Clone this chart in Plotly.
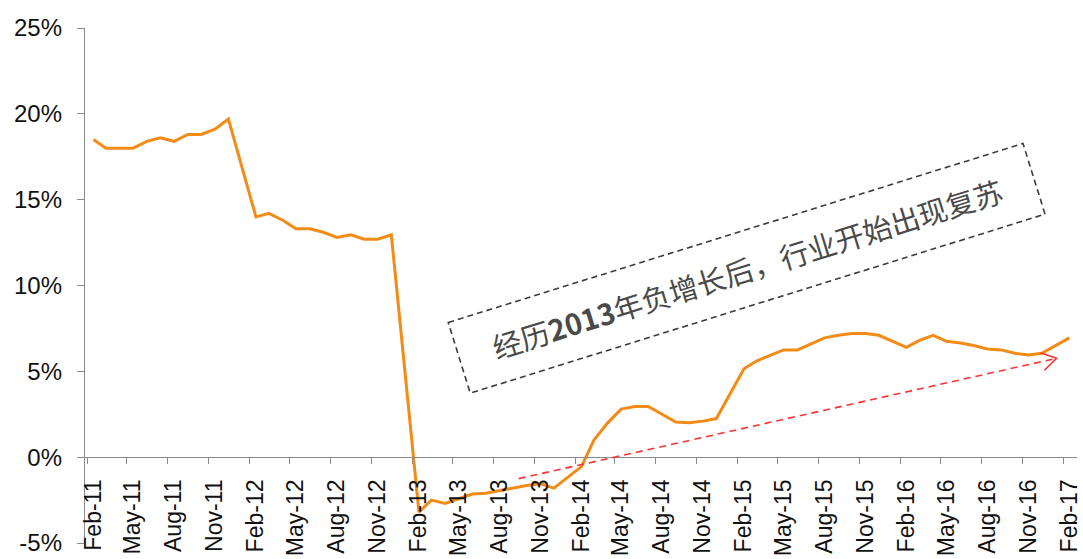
import math
from datetime import date
import plotly.graph_objects as go

# Monthly growth series; January is reported together with February, so no January points
months = [f"{y}-{m:02d}" for y in range(2011, 2017) for m in range(2, 13)] + ["2017-02"]
growth = [
    18.5, 18.0, 18.0, 18.0, 18.4, 18.6, 18.4, 18.8, 18.8, 19.1, 19.7,      # 2011
    14.0, 14.2, 13.8, 13.3, 13.3, 13.1, 12.8, 12.95, 12.7, 12.7, 12.95,    # 2012
    -3.2, -2.5, -2.7, -2.45, -2.15, -2.1, -1.95, -1.8, -1.65, -1.55, -1.8, # 2013
    -0.55, 1.0, 2.0, 2.8, 2.95, 2.95, 2.5, 2.05, 2.0, 2.1, 2.25,           # 2014
    5.15, 5.6, 5.95, 6.25, 6.25, 6.6, 6.95, 7.1, 7.2, 7.2, 7.1,            # 2015
    6.4, 6.8, 7.1, 6.75, 6.65, 6.5, 6.3, 6.25, 6.05, 5.95, 6.05,           # 2016
    6.95,                                                                  # 2017
]
y_ticks = [-5, 0, 5, 10, 15, 20, 25]
y_labels = ["-5%", "0%", "5%", "10%", "15%", "20%", "25%"]

note_text = "经历<b>2013</b>年负增长后，行业开始出现复苏"
note_center = ("2015-02-21", 11.0)
trend_start = ("2013-09-27", -1.25)
trend_end = ("2017-01-17", 5.76)

# page geometry
WIDTH, HEIGHT = 1083, 559
M_L, M_R, M_T, M_B = 85, 6, 28, 16
X_RANGE = ("2011-01-27", "2017-03-04")
Y_RANGE = (-5, 25)
plot_w = WIDTH - M_L - M_R
plot_h = HEIGHT - M_T - M_B

def to_date(s):
    return date.fromisoformat(s)

span_days = (to_date(X_RANGE[1]) - to_date(X_RANGE[0])).days
px_per_day = plot_w / span_days
px_per_pct = plot_h / (Y_RANGE[1] - Y_RANGE[0])

x_dates = [m + "-15" for m in months]

fig = go.Figure()
fig.add_trace(go.Scatter(
    x=x_dates, y=growth, mode="lines",
    line=dict(color="#F38B17", width=3),
    hoverinfo="skip", showlegend=False,
))

# dashed trend arrow
fig.add_shape(type="line", xref="x", yref="y",
              x0=trend_start[0], y0=trend_start[1], x1=trend_end[0], y1=trend_end[1],
              line=dict(color="#FF3030", width=1.6, dash="7px,5px"))
dx = (to_date(trend_end[0]) - to_date(trend_start[0])).days * px_per_day
dy = (trend_end[1] - trend_start[1]) * px_per_pct
ang = math.atan2(dy, dx)
arm, spread = 17, math.radians(32)
p1 = (arm * math.cos(ang + math.pi - spread), arm * math.sin(ang + math.pi - spread))
p2 = (arm * math.cos(ang + math.pi + spread), arm * math.sin(ang + math.pi + spread))
fig.add_shape(type="path", xref="x", yref="y",
              xsizemode="pixel", ysizemode="pixel",
              xanchor=trend_end[0], yanchor=trend_end[1],
              path=f"M {p1[0]:.2f},{p1[1]:.2f} L 0,0 L {p2[0]:.2f},{p2[1]:.2f}",
              line=dict(color="#FF3030", width=1.6))

# rotated dashed callout box
box_w, box_h, box_angle = 602, 74, 17.3
t = math.radians(box_angle)
ux, uy = math.cos(t), math.sin(t)
vx, vy = -math.sin(t), math.cos(t)
corners = []
for su, sv in [(-1, 1), (1, 1), (1, -1), (-1, -1)]:
    corners.append((su * box_w / 2 * ux + sv * box_h / 2 * vx,
                    su * box_w / 2 * uy + sv * box_h / 2 * vy))
box_path = "M " + " L ".join(f"{cx:.2f},{cy:.2f}" for cx, cy in corners) + " Z"
fig.add_shape(type="path", xref="x", yref="y",
              xsizemode="pixel", ysizemode="pixel",
              xanchor=note_center[0], yanchor=note_center[1],
              path=box_path,
              line=dict(color="#3C3C3C", width=1.6, dash="6px,4px"))
fig.add_annotation(x=note_center[0], y=note_center[1], xref="x", yref="y",
                   text=note_text, showarrow=False, textangle=-box_angle,
                   font=dict(family="Noto Sans CJK SC", size=29, color="#4A4A4A"))

fig.update_layout(
    width=WIDTH, height=HEIGHT,
    margin=dict(l=M_L, r=M_R, t=M_T, b=M_B, pad=0, autoexpand=False),
    paper_bgcolor="white", plot_bgcolor="white",
    font=dict(family="Liberation Sans, Arial, sans-serif", size=24, color="#111111"),
    xaxis=dict(
        type="date", range=list(X_RANGE), automargin=False,
        tick0="2011-02-01", dtick="M3", tickformat="%b-%y",
        tickangle=-90, ticks="outside", ticklen=6, tickcolor="#8A8A8A",
        showline=True, linecolor="#8A8A8A", linewidth=1.3,
        showgrid=False, zeroline=False,
        anchor="free", position=(0 - Y_RANGE[0]) / (Y_RANGE[1] - Y_RANGE[0]),
        ticklabelstandoff=6, ticklabelshift=6,
        tickfont=dict(size=23, color="#111111"),
    ),
    yaxis=dict(
        range=list(Y_RANGE), tickvals=y_ticks, ticktext=y_labels, automargin=False,
        ticks="outside", ticklen=7, tickcolor="#8A8A8A",
        showline=True, linecolor="#8A8A8A", linewidth=1.3,
        showgrid=False, zeroline=False,
        ticklabelstandoff=10,
        tickfont=dict(size=24, color="#111111"),
    ),
)

fig.write_html("out.html")
